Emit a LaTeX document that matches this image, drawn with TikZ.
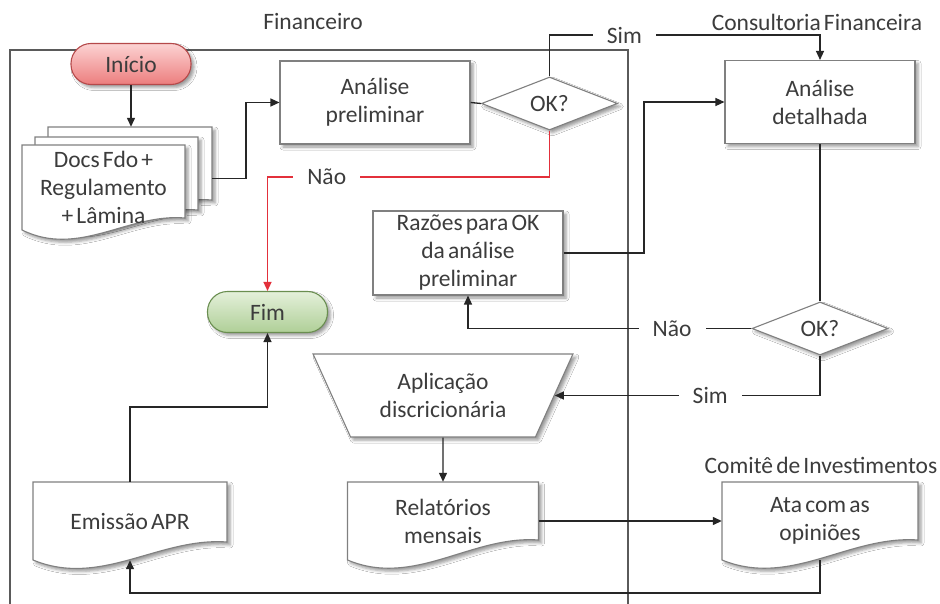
\documentclass[tikz,border=0pt]{standalone}
\usepackage{fontspec}
\setmainfont{Carlito}[WordSpace=0.6]
\usetikzlibrary{shapes.geometric,shadows.blur,arrows.meta,calc,fit}

\definecolor{inkline}{HTML}{262626}
\definecolor{boxline}{HTML}{808080}
\definecolor{textgray}{HTML}{3C3C3C}
\definecolor{framegray}{HTML}{5A5A5A}
\definecolor{noline}{HTML}{E3303B}
\definecolor{startTop}{HTML}{FCD3D3}
\definecolor{startBot}{HTML}{EC7D7D}
\definecolor{startLine}{HTML}{B5494A}
\definecolor{endTop}{HTML}{E4F0DA}
\definecolor{endBot}{HTML}{AFCF97}
\definecolor{endLine}{HTML}{6A8E50}

\tikzset{
  every node/.style={font=\fontsize{23.5}{28}\selectfont, text=textgray},
  shad/.style={blur shadow={shadow xshift=3pt, shadow yshift=-3pt,
      shadow blur radius=3pt, shadow opacity=40}},
  procbox/.style={draw=boxline, line width=1.1pt, fill=white, shad,
      minimum width=190pt, minimum height=83pt, align=center, inner sep=2pt},
  decision/.style={diamond, draw=boxline, line width=1.1pt, fill=white, shad,
      minimum width=136pt, minimum height=53pt, inner sep=0pt, aspect=2.5},
  manualop/.style={trapezium, trapezium left angle=120, trapezium right angle=120,
      trapezium stretches=true, draw=boxline, line width=1.1pt, fill=white, shad,
      minimum width=260pt, minimum height=83pt, align=center, inner sep=0pt},
  terminal/.style={rounded corners=20pt, line width=1.1pt, shad,
      minimum width=120pt, minimum height=41pt, inner sep=0pt},
  startterm/.style={terminal, draw=startLine, top color=startTop, bottom color=startBot},
  endterm/.style={terminal, draw=endLine, top color=endTop, bottom color=endBot},
  docshape/.style={draw=boxline, line width=1.1pt, fill=white, shad},
  docnode/.style={align=center, inner sep=0pt},
  lane/.style={draw=framegray, line width=1.2pt},
  link/.style={draw=inkline, line width=1.3pt},
  conn/.style={link, -{Triangle[length=9pt,width=8pt]}},
  noconn/.style={draw=noline, line width=1.3pt, -{Triangle[length=9pt,width=8pt]}},
  lbl/.style={fill=white, inner xsep=14pt, inner ysep=2pt},
}

% document symbol: outline with a wavy lower edge, then a named text node
% #1 name, #2 centre x, #3 centre y, #4 width, #5 height, #6 rise of the right end, #7 text
\newcommand\docnode[7]{%
  \path[docshape]
    ({#2-#4/2},{#3-#5/2}) -- ({#2+#4/2},{#3-#5/2})
    -- ({#2+#4/2},{#3+#5/2-#6})
    .. controls ({#2+0.15*#4},{#3+#5/2-#6-5}) and ({#2-0.15*#4},{#3+#5/2+28}) ..
    ({#2-#4/2},{#3+#5/2}) -- cycle;
  \node[docnode, minimum width=#4pt, minimum height=#5pt] (#1) at (#2,#3) {#7};
}

\begin{document}
\begin{tikzpicture}[x=1pt,y=-1pt]
\fill[white] (0,0) rectangle (940,604);
\useasboundingbox (0,0) rectangle (940,604);

% swimlane of the finance department
\draw[lane] (10,604) -- (10,50) -- (628,50) -- (628,604);
\node (laneFin) at (313,22) {Financeiro};
\node (laneCons) at (817,22) {Consultoria Financeira};
\node (laneCom) at (821,465) {Comitê de Investimentos};

% shapes
\node[startterm] (ini) at (131,64) {Início};

\docnode{dback}{130}{169.5}{164}{85}{12}{}
\docnode{dmid}{116.5}{179.5}{163}{85}{12}{}
\docnode{dfront}{103.5}{187.5}{163}{85}{12}{Docs Fdo +\\Regulamento\\+ Lâmina}
\node[fit=(dback)(dmid)(dfront), inner sep=0pt] (docs) {};

\node[procbox] (pre) at (375,102.5) {Análise\\preliminar};
\node[decision] (ok1) at (549.5,103.5) {OK?};
\node[procbox] (det) at (820,102) {Análise\\detalhada};
\node[procbox, minimum height=84pt] (raz) at (468,253) {Razões para OK\\da análise\\preliminar};
\node[decision] (ok2) at (820,328.5) {OK?};
\node[endterm] (fim) at (267.5,312) {Fim};
\node[manualop] (apl) at (443,395.5) {Aplicação\\discricionária};

\docnode{rel}{443}{521}{191}{78}{20}{Relatórios\\mensais}
\docnode{ata}{820}{521}{196}{78}{20}{Ata com as\\opiniões}
\docnode{emi}{130}{521}{194}{78}{18}{Emissão APR}

% helper levels for the routed connectors
\coordinate (simTop) at (0,35);
\coordinate (naoTop) at (0,177);
\coordinate (emiUp) at (0,407);
\coordinate (bottomRun) at (0,593);

% connectors
\draw[conn] (ini.south) -- (ini.south |- dback.north);
\draw[conn] (docs.east) -| ($(docs.east)!0.5!(pre.west)$) |- (pre.west);
\draw[link] (pre.east) -- (ok1.west);
\draw[conn] (ok1.north) -- (ok1.north |- simTop)
  -- node[lbl, pos=0.277] {Sim} (det.north |- simTop) -- (det.north);
\draw[noconn] (ok1.south) -- (ok1.south |- naoTop)
  -- node[lbl, pos=0.79] {Não} (fim.north |- naoTop) -- (fim.north);
\draw[link] (det.south) -- (ok2.north);
\draw[conn] (ok2.west) -- node[lbl, pos=0.28] {Não} (raz.south |- ok2.west) -- (raz.south);
\draw[conn] (raz.east) -| ($(raz.east)!0.5!(det.west)$) |- (det.west);
\draw[conn] (ok2.south) -- (ok2.south |- apl.east) -- node[lbl, pos=0.414] {Sim} (apl.east);
\draw[conn] (apl.south) -- (rel.north);
\draw[conn] (rel.east) -- (ata.west);
\draw[conn] (ata.south) -- (ata.south |- bottomRun) -- (emi.south |- bottomRun) -- (emi.south);
\draw[conn] (emi.north) -- (emi.north |- emiUp) -| (fim.south);
\end{tikzpicture}
\end{document}
